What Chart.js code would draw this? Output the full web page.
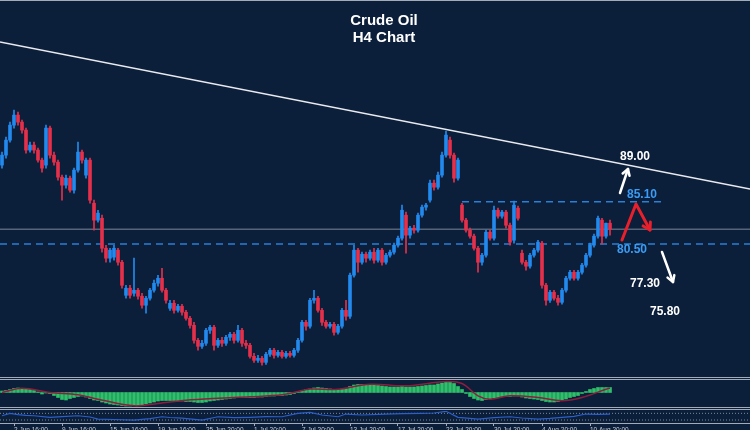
<!DOCTYPE html>
<html>
<head>
<meta charset="utf-8">
<script src="https://cdn.jsdelivr.net/npm/chart.js@4.4.1/dist/chart.umd.min.js"></script>
<style>
html, body { margin: 0; padding: 0; background: #0b1e3a; width: 750px; height: 430px; overflow: hidden; }
#wrap { position: relative; width: 750px; height: 430px; }
canvas { position: absolute; left: 0; }
.sep { position: absolute; left: 0; width: 750px; height: 1px; background: #a3abb9; }
</style>
</head>
<body>
<div id="wrap">
  <canvas id="main" width="750" height="372" style="top:0"></canvas>
  <canvas id="macd" width="750" height="27" style="top:380px"></canvas>
  <canvas id="rsi" width="750" height="32" style="top:411px"></canvas>
  <div class="sep" style="top:0"></div>
  <div class="sep" style="top:377px"></div>
  <div class="sep" style="top:379px"></div>
  <div class="sep" style="top:407px"></div>
  <div class="sep" style="top:409px"></div>
</div>
<script>
// Datos H4
var opens = [
  89.07, 90.15, 91.78, 93.41, 94.50, 93.74, 92.87, 90.70, 91.24, 90.70,
  89.61, 89.07, 93.09, 90.15, 89.39, 87.76, 86.89, 87.65, 86.35, 88.52,
  90.48, 87.98, 89.61, 84.93, 83.09, 83.30, 80.04, 78.96, 79.07, 79.83,
  78.52, 74.93, 75.70, 75.15, 75.48, 74.83, 73.85, 74.61, 75.48, 76.24,
  76.78, 75.48, 73.52, 74.07, 73.30, 73.74, 73.09, 72.43, 71.67, 70.04,
  69.39, 69.72, 71.13, 71.46, 69.50, 70.04, 69.72, 70.37, 70.70, 70.04,
  71.13, 69.72, 69.50, 68.30, 67.87, 68.09, 67.65, 68.52, 68.96, 68.41,
  68.74, 68.30, 68.63, 68.41, 68.96, 70.04, 72.00, 71.57, 74.39, 74.61,
  73.30, 72.00, 71.57, 71.78, 70.91, 71.57, 73.30, 72.65, 77.11, 79.83,
  78.52, 79.39, 78.96, 79.61, 78.74, 79.83, 78.52, 79.28, 79.61, 80.37,
  81.13, 83.63, 81.46, 82.22, 82.00, 83.63, 84.50, 85.26, 87.11, 86.67,
  87.98, 90.15, 91.78, 90.15, 87.65, 84.72, 83.09, 82.00, 81.35, 80.04,
  78.52, 79.28, 81.78, 81.13, 84.17, 83.52, 83.96, 82.54, 80.91, 84.39,
  79.50, 78.52, 78.09, 79.28, 79.83, 80.59, 76.02, 74.39, 75.26, 74.61,
  74.17, 75.48, 76.78, 77.43, 76.78, 77.43, 78.20, 79.28, 80.37, 81.35,
  83.09, 81.35, 82.76
];
var highs = [
  90.48, 92.11, 93.74, 95.04, 94.83, 93.96, 93.09, 91.57, 91.57, 90.91,
  89.83, 93.41, 93.30, 90.48, 89.61, 87.98, 87.98, 87.87, 88.74, 91.57,
  90.70, 89.83, 89.83, 85.26, 84.17, 83.63, 80.37, 80.04, 80.37, 80.04,
  78.74, 76.02, 76.02, 78.96, 75.70, 75.15, 74.83, 75.70, 76.57, 77.11,
  77.87, 75.70, 74.39, 74.39, 73.96, 73.96, 73.30, 72.65, 72.00, 70.26,
  70.04, 71.35, 71.67, 71.67, 70.26, 70.37, 70.59, 70.91, 70.91, 71.67,
  71.35, 70.04, 69.72, 68.63, 68.41, 68.30, 68.74, 69.17, 69.17, 68.96,
  68.96, 68.85, 68.85, 69.17, 70.26, 72.22, 72.22, 74.61, 75.48, 74.83,
  73.52, 72.22, 72.00, 72.00, 71.78, 73.52, 74.39, 77.33, 80.37, 80.04,
  79.61, 79.61, 79.83, 80.04, 80.04, 80.04, 79.50, 79.83, 80.59, 81.35,
  84.72, 83.96, 82.43, 82.54, 83.85, 84.72, 84.93, 87.43, 87.43, 88.30,
  90.48, 92.76, 92.11, 90.37, 89.83, 84.93, 83.30, 82.22, 81.57, 80.26,
  79.50, 82.00, 82.00, 84.61, 84.39, 84.17, 84.17, 82.76, 85.15, 84.61,
  79.83, 78.74, 79.50, 80.04, 80.91, 80.80, 76.24, 75.48, 75.48, 74.93,
  75.70, 77.00, 77.65, 77.65, 77.65, 78.41, 79.50, 80.59, 81.57, 83.52,
  83.30, 82.76, 83.09
];
var lows = [
  88.74, 89.83, 91.57, 93.09, 93.41, 92.54, 90.37, 90.48, 90.37, 89.39,
  88.30, 88.74, 89.83, 89.07, 87.43, 85.26, 86.57, 86.13, 86.02, 88.30,
  89.28, 87.65, 84.93, 82.00, 82.87, 79.61, 78.52, 78.52, 78.74, 78.20,
  75.70, 74.61, 74.61, 74.83, 74.50, 73.52, 72.98, 74.39, 75.26, 75.91,
  75.26, 74.07, 73.30, 72.98, 73.09, 72.76, 72.22, 71.35, 69.72, 68.96,
  69.17, 69.50, 70.80, 68.96, 69.28, 69.39, 69.50, 70.04, 69.72, 69.83,
  69.39, 69.17, 68.09, 67.65, 67.65, 67.33, 67.43, 68.30, 68.09, 68.20,
  68.09, 68.09, 68.20, 68.20, 68.74, 69.83, 71.13, 71.35, 74.07, 73.09,
  71.67, 71.35, 71.35, 70.59, 70.70, 71.35, 72.22, 72.43, 76.89, 77.43,
  78.30, 78.52, 78.74, 78.41, 78.52, 78.20, 78.30, 79.07, 79.39, 80.15,
  80.91, 79.50, 81.13, 81.67, 81.78, 83.41, 84.17, 85.04, 86.35, 86.46,
  87.76, 89.93, 89.83, 87.22, 87.43, 82.87, 81.78, 81.13, 79.83, 77.43,
  78.20, 79.07, 80.91, 80.91, 83.30, 83.30, 82.22, 80.37, 80.59, 83.09,
  78.30, 77.65, 77.87, 79.07, 79.61, 75.70, 73.85, 74.17, 74.39, 73.85,
  73.96, 75.26, 76.57, 76.57, 76.57, 77.22, 77.98, 79.07, 80.15, 81.13,
  80.48, 81.13, 81.46
];
var closes = [
  90.15, 91.78, 93.41, 94.50, 93.74, 92.87, 90.70, 91.24, 90.70, 89.61,
  88.74, 93.09, 90.15, 89.39, 87.76, 86.89, 87.65, 86.35, 88.52, 90.48,
  89.61, 89.61, 85.26, 83.09, 83.85, 80.04, 78.96, 79.83, 80.04, 78.52,
  76.02, 75.70, 74.93, 75.48, 74.83, 73.85, 74.61, 75.48, 76.24, 76.78,
  75.48, 74.39, 74.07, 73.30, 73.74, 73.09, 72.43, 71.67, 70.04, 69.39,
  69.72, 71.13, 71.46, 69.50, 70.04, 69.72, 70.37, 70.70, 70.04, 71.13,
  69.72, 69.50, 68.30, 67.87, 68.09, 67.65, 68.52, 68.96, 68.41, 68.74,
  68.30, 68.63, 68.41, 68.96, 70.04, 72.00, 71.57, 74.39, 74.61, 73.30,
  72.00, 71.57, 71.78, 70.91, 71.57, 73.30, 72.65, 77.11, 79.83, 78.52,
  79.39, 78.96, 79.61, 78.74, 79.83, 78.52, 79.28, 79.61, 80.37, 81.13,
  84.17, 81.46, 82.22, 82.00, 83.63, 84.50, 84.72, 87.11, 86.67, 87.98,
  90.15, 92.33, 90.15, 87.65, 89.61, 83.09, 82.00, 81.35, 80.04, 78.52,
  79.28, 81.78, 81.13, 84.17, 83.52, 83.96, 82.54, 80.70, 84.72, 83.30,
  78.52, 78.09, 79.28, 79.83, 80.70, 76.02, 74.39, 75.26, 74.61, 74.17,
  75.48, 76.78, 77.43, 76.78, 77.43, 78.20, 79.28, 80.37, 81.35, 83.30,
  81.35, 82.76, 82.11
];

// MACD
var macdHist = [
  0.15, 0.2, 0.3, 0.4, 0.45, 0.4, 0.35, 0.3, 0.2, 0.05,
  -0.15, -0.05, -0.1, -0.3, -0.5, -0.7, -0.75, -0.6, -0.5, -0.4,
  -0.35, -0.45, -0.6, -0.75, -0.8, -0.95, -1.05, -1.15, -1.2, -1.25,
  -1.3, -1.35, -1.35, -1.3, -1.3, -1.25, -1.15, -1.05, -0.95, -0.85,
  -0.8, -0.8, -0.8, -0.8, -0.85, -0.85, -0.9, -0.9, -0.95, -1.0,
  -1.0, -0.95, -0.85, -0.8, -0.75, -0.7, -0.65, -0.6, -0.55, -0.5,
  -0.5, -0.5, -0.5, -0.5, -0.45, -0.45, -0.4, -0.35, -0.35, -0.3,
  -0.3, -0.25, -0.2, -0.1, 0.05, 0.2, 0.3, 0.35, 0.45, 0.5,
  0.45, 0.4, 0.35, 0.3, 0.3, 0.35, 0.4, 0.6, 0.75, 0.8,
  0.8, 0.8, 0.75, 0.75, 0.7, 0.65, 0.6, 0.55, 0.55, 0.55,
  0.6, 0.55, 0.55, 0.55, 0.6, 0.65, 0.7, 0.75, 0.75, 0.85,
  0.95, 1.1, 1.05, 0.9, 0.6, 0.3, -0.1, -0.4, -0.6, -0.75,
  -0.8, -0.7, -0.65, -0.55, -0.5, -0.4, -0.4, -0.4, -0.35, -0.35,
  -0.45, -0.55, -0.6, -0.65, -0.7, -0.8, -0.9, -0.95, -0.95, -0.9,
  -0.8, -0.65, -0.5, -0.4, -0.3, -0.1, 0.1, 0.3, 0.4, 0.5,
  0.5, 0.5, 0.5
];
var signalIdx = [0, 5, 12, 19, 24, 33, 39, 46, 54, 62, 70, 74, 77, 84, 92, 101, 111, 115, 119, 122, 127, 134, 140, 145, 151, 152];
var signalVals = [0.0, 0.43, 0.0, -0.23, -0.67, -1.33, -1.1, -0.77, -0.57, -0.43, -0.23, 0.1, 0.35, 0.33, 0.83, 0.67, 1.1, 0.9, -0.33, -0.67, -0.33, -0.5, -0.83, -0.5, 0.33, 0.45];

// Oscilador inferior
var rsiIdx = [0, 2, 4, 6, 8, 12, 15, 19, 22, 24, 28, 33, 37, 40, 42, 45, 50, 54, 58, 62, 66, 70, 74, 77, 80, 84, 86, 90, 96, 100, 105, 108, 111, 114, 117, 119, 123, 127, 130, 134, 137, 140, 143, 146, 149, 152];
var rsiVals = [55.6, 70, 62, 58, 55.6, 46, 50, 55.6, 48, 35.8, 33, 29.8, 38, 49.6, 45, 41.8, 29.8, 49.6, 44, 46, 50, 49.6, 70, 76, 60, 49.6, 65.8, 60, 65.8, 68, 70, 72, 82, 46, 40, 35.8, 44, 49.6, 42, 35.8, 40, 46, 52, 65.8, 64, 65.8];
var rsiLevels = [70, 30];

// Eje de fechas
var dateTickIdx = [3, 15, 27, 39, 51, 63, 75, 87, 99, 111, 123, 135, 147];
var dateLabels = ['2 Jun 16:00', '9 Jun 16:00', '15 Jun 16:00', '19 Jun 16:00', '25 Jun 20:00', '1 Jul 20:00',
  '7 Jul 20:00', '13 Jul 20:00', '17 Jul 20:00', '23 Jul 20:00', '30 Jul 20:00', '4 Aug 20:00', '10 Aug 20:00'];

// Niveles y tendencia
var trendVals = [102.43, 86.46];
var levelValues = [89.00, 85.10, 80.50, 77.30, 75.80];
var titleLines = ['Crude Oil', 'H4 Chart'];

var BG = '#0b1e3a';
var UP = '#2389ec';
var DOWN = '#e5304b';
var X_MIN = -0.5, X_MAX = 187;

function candleColor(ctx) {
    var i = ctx.dataIndex;
    return closes[i] >= opens[i] ? UP : DOWN;
}

function arrowHead(ctx, x1, y1, x2, y2, len) {
    var a = Math.atan2(y2 - y1, x2 - x1);
    ctx.beginPath();
    ctx.moveTo(x2 + len * Math.cos(a + 2.6), y2 + len * Math.sin(a + 2.6));
    ctx.lineTo(x2, y2);
    ctx.lineTo(x2 + len * Math.cos(a - 2.6), y2 + len * Math.sin(a - 2.6));
    ctx.stroke();
}

// Titulo, etiquetas y flechas
var annotPlugin = {
    id: 'annot',
    afterDraw: function(chart) {
        var ctx = chart.ctx;
        ctx.save();
        ctx.fillStyle = '#ffffff';
        ctx.textAlign = 'center';
        ctx.textBaseline = 'middle';
        ctx.font = 'bold 15px "Liberation Sans", Arial, sans-serif';
        ctx.fillText(titleLines[0], 384, 21);
        ctx.fillText(titleLines[1], 384, 38);

        var pos = [[620, 157, '#ffffff'], [627, 195, '#3a9cf4'], [617, 250, '#3a9cf4'], [630, 284, '#ffffff'], [650, 312, '#ffffff']];
        ctx.textAlign = 'left';
        ctx.font = 'bold 12px "Liberation Sans", Arial, sans-serif';
        levelValues.forEach(function(v, k) {
            ctx.fillStyle = pos[k][2];
            ctx.fillText(v.toFixed(2), pos[k][0], pos[k][1]);
        });

        ctx.lineCap = 'round';
        ctx.lineJoin = 'round';
        // flecha blanca arriba
        ctx.strokeStyle = '#ffffff';
        ctx.lineWidth = 2.5;
        ctx.beginPath();
        ctx.moveTo(620, 193);
        ctx.lineTo(628, 169);
        ctx.stroke();
        arrowHead(ctx, 620, 193, 628, 169, 7);
        // zigzag rojo
        ctx.strokeStyle = '#e8202c';
        ctx.lineWidth = 3;
        ctx.beginPath();
        ctx.moveTo(622, 240);
        ctx.lineTo(636, 204);
        ctx.lineTo(650, 230);
        ctx.stroke();
        arrowHead(ctx, 636, 204, 650, 230, 8);
        // flecha blanca abajo
        ctx.strokeStyle = '#ffffff';
        ctx.lineWidth = 2.5;
        ctx.beginPath();
        ctx.moveTo(662, 252);
        ctx.lineTo(673, 282);
        ctx.stroke();
        arrowHead(ctx, 662, 252, 673, 282, 7);
        ctx.restore();
    }
};

var hiddenX = { type: 'linear', min: X_MIN, max: X_MAX, offset: false, display: false };
var baseOptions = {
    responsive: false,
    animation: false,
    events: [],
    plugins: { legend: { display: false }, tooltip: { enabled: false } }
};

// Grafico principal
new Chart(document.getElementById('main'), {
    type: 'bar',
    data: {
        datasets: [
            {
                type: 'line',
                data: [{ x: X_MIN, y: trendVals[0] }, { x: X_MAX, y: trendVals[1] }],
                borderColor: '#e8eaee', borderWidth: 1.5, pointRadius: 0, order: 0
            },
            {
                type: 'line',
                data: [{ x: X_MIN, y: closes[closes.length - 1] }, { x: X_MAX, y: closes[closes.length - 1] }],
                borderColor: '#7f8898', borderWidth: 1, pointRadius: 0, order: 3
            },
            {
                type: 'line',
                data: [{ x: X_MIN, y: levelValues[2] }, { x: X_MAX, y: levelValues[2] }],
                borderColor: '#2a7fd6', borderWidth: 1.5, borderDash: [7, 5], pointRadius: 0, order: 3
            },
            {
                type: 'line',
                data: [{ x: 115, y: levelValues[1] }, { x: 165.75, y: levelValues[1] }],
                borderColor: '#2a7fd6', borderWidth: 1.5, borderDash: [7, 5], pointRadius: 0, order: 3
            },
            {
                data: lows.map(function(l, i) { return { x: i, y: [l, highs[i]] }; }),
                backgroundColor: candleColor, barThickness: 1, grouped: false, order: 2
            },
            {
                data: opens.map(function(o, i) { return { x: i, y: [o, closes[i]] }; }),
                backgroundColor: candleColor, barThickness: 3, grouped: false, order: 1
            }
        ]
    },
    options: Object.assign({}, baseOptions, {
        scales: {
            x: hiddenX,
            y: { min: 66.6, max: 107.0, display: false }
        }
    }),
    plugins: [annotPlugin]
});

// MACD
new Chart(document.getElementById('macd'), {
    type: 'bar',
    data: {
        datasets: [
            {
                type: 'line',
                data: signalIdx.map(function(x, k) { return { x: x, y: signalVals[k] }; }),
                borderColor: '#8e1e3e', borderWidth: 1.5, pointRadius: 0, tension: 0.35, order: 0
            },
            {
                data: macdHist.map(function(v, i) { return { x: i, y: v }; }),
                backgroundColor: '#2fc06a', barThickness: 3, grouped: false, order: 1
            }
        ]
    },
    options: Object.assign({}, baseOptions, {
        scales: {
            x: hiddenX,
            y: { min: -1.45, max: 1.25, display: false }
        }
    })
});

// Oscilador + eje de fechas
new Chart(document.getElementById('rsi'), {
    type: 'line',
    data: {
        datasets: [
            {
                data: rsiIdx.map(function(x, k) { return { x: x, y: rsiVals[k] }; }),
                borderColor: '#2d5fc8', borderWidth: 1.2, pointRadius: 0
            },
            {
                data: [{ x: X_MIN, y: rsiLevels[0] }, { x: X_MAX, y: rsiLevels[0] }],
                borderColor: '#7c889a', borderWidth: 1, borderDash: [1, 2], pointRadius: 0
            },
            {
                data: [{ x: X_MIN, y: rsiLevels[1] }, { x: X_MAX, y: rsiLevels[1] }],
                borderColor: '#7c889a', borderWidth: 1, borderDash: [1, 2], pointRadius: 0
            }
        ]
    },
    options: Object.assign({}, baseOptions, {
        scales: {
            x: {
                type: 'linear', min: X_MIN, max: X_MAX, offset: false,
                afterBuildTicks: function(scale) {
                    scale.ticks = dateTickIdx.map(function(v) { return { value: v }; });
                },
                afterFit: function(scale) { scale.height = 20; },
                border: { display: true, color: '#a3abb9', width: 1 },
                grid: { display: true, drawOnChartArea: false, drawTicks: true, tickLength: 3, color: '#a3abb9' },
                ticks: {
                    autoSkip: false, maxRotation: 0, align: 'start', padding: 0,
                    color: '#c9ced8',
                    font: { family: '"Liberation Sans", Arial, sans-serif', size: 6.5 },
                    callback: function(v, i) { return dateLabels[i]; }
                }
            },
            y: { min: 12, max: 84, display: false }
        }
    })
});
</script>
</body>
</html>
